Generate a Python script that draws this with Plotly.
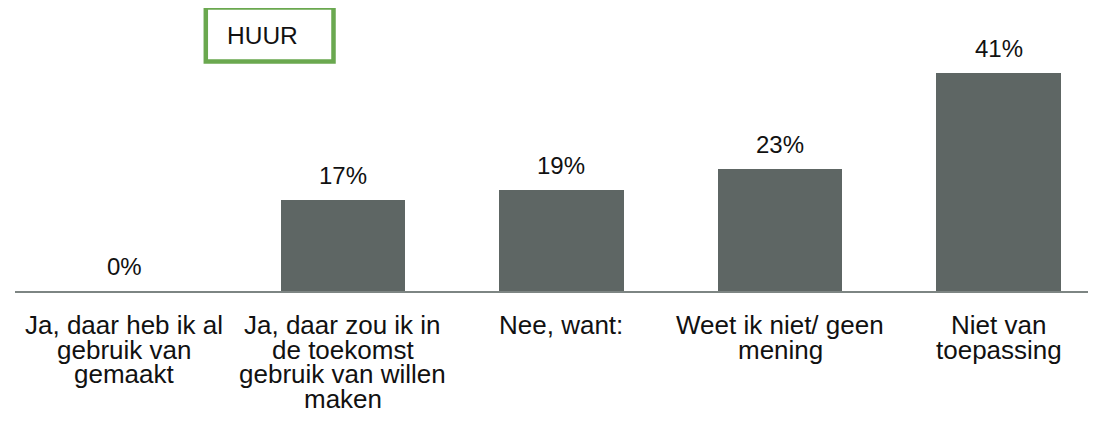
import plotly.graph_objects as go

categories = [
    "Ja, daar heb ik al<br>gebruik van<br>gemaakt",
    "Ja, daar zou ik in<br>de toekomst<br>gebruik van willen<br>maken",
    "Nee, want:",
    "Weet ik niet/ geen<br>mening",
    "Niet van<br>toepassing",
]
values = [0, 17, 19, 23, 41]
box_label = "HUUR"

FONT = "Arial, Liberation Sans, sans-serif"
BAR = "#5e6664"

fig = go.Figure()
fig.add_trace(go.Bar(
    x=list(range(len(categories))),
    y=values,
    width=0.57,
    marker=dict(color=BAR, line=dict(width=0)),
    hoverinfo="skip",
))

annotations = []
# value labels
for i, v in enumerate(values):
    annotations.append(dict(
        x=i, y=v, xref="x", yref="y", text=f"{v}%", showarrow=False,
        yanchor="bottom", yshift=9,
        font=dict(family=FONT, size=24, color="#111111"),
    ))
# category labels, one annotation per line for tight line spacing
for i, lab in enumerate(categories):
    for j, line in enumerate(lab.split("<br>")):
        annotations.append(dict(
            x=i, y=0, xref="x", yref="paper", text=line, showarrow=False,
            yanchor="middle", yshift=-(34 + 24.5 * j),
            font=dict(family=FONT, size=26, color="#111111"),
        ))
annotations.append(dict(
    x=(225 - 15) / 1089, y=0.9428, xref="paper", yref="paper", text=box_label,
    showarrow=False, xanchor="left", yanchor="middle",
    font=dict(family=FONT, size=24.5, color="#111111"),
))

# page body adds an 8px offset; margins compensate for it
fig.update_layout(
    width=1096, height=425,
    margin=dict(l=7, r=0, t=12, b=142),
    paper_bgcolor="white", plot_bgcolor="white",
    showlegend=False,
    bargap=0,
    annotations=annotations,
    shapes=[dict(
        type="rect", xref="paper", yref="paper",
        x0=(205.8 - 15) / 1089, x1=(333.5 - 15) / 1089,
        y0=(291 - 61.5) / 271, y1=(291 - 7.5) / 271,
        line=dict(color="#6aa84f", width=4.5),
        fillcolor="rgba(0,0,0,0)",
    )],
    xaxis=dict(
        range=[-0.5, 4.482], showgrid=False, zeroline=False,
        showticklabels=False, ticks="",
        showline=True, linecolor="#7d8583", linewidth=2,
        fixedrange=True,
    ),
    yaxis=dict(
        range=[0, 50.9], showgrid=False, zeroline=False,
        showticklabels=False, ticks="", showline=False,
        fixedrange=True,
    ),
)

fig.write_html("out.html")
